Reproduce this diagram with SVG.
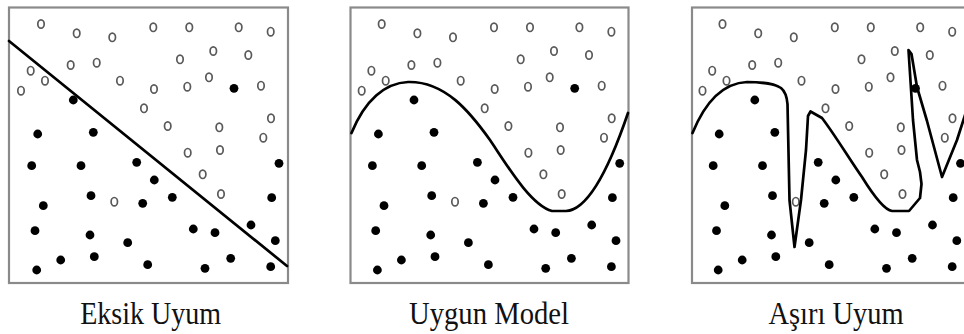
<svg xmlns="http://www.w3.org/2000/svg" xmlns:xlink="http://www.w3.org/1999/xlink" width="964" height="334" viewBox="0 0 964 334">
<style>
.frame{fill:#fff;stroke:#8a8a8a;stroke-width:2.2}
.o{fill:none;stroke:#5a5a5a;stroke-width:1.7}
.f{fill:#000}
.curve{fill:none;stroke:#000;stroke-width:2.7;stroke-linejoin:round;stroke-linecap:round}
.lbl{font-family:"Liberation Serif","Times New Roman",serif;font-size:31px;fill:#111;text-anchor:middle}
</style>
<defs>
<g id="pts">
<g class="o">
<ellipse cx="41" cy="24" rx="3.2" ry="4.2"/><ellipse cx="76.7" cy="33.3" rx="3.2" ry="4.2"/><ellipse cx="112.3" cy="37.3" rx="3.2" ry="4.2"/><ellipse cx="153.3" cy="27.3" rx="3.2" ry="4.2"/><ellipse cx="189.3" cy="27.3" rx="3.2" ry="4.2"/><ellipse cx="238.7" cy="27.3" rx="3.2" ry="4.2"/><ellipse cx="270.7" cy="31.7" rx="3.2" ry="4.2"/><ellipse cx="180" cy="59.3" rx="3.2" ry="4.2"/><ellipse cx="213.3" cy="51" rx="3.2" ry="4.2"/><ellipse cx="248.3" cy="55" rx="3.2" ry="4.2"/><ellipse cx="70.7" cy="65" rx="3.2" ry="4.2"/><ellipse cx="96.7" cy="62.7" rx="3.2" ry="4.2"/><ellipse cx="30.7" cy="70.7" rx="3.2" ry="4.2"/><ellipse cx="45" cy="80.7" rx="3.2" ry="4.2"/><ellipse cx="21" cy="90.7" rx="3.2" ry="4.2"/><ellipse cx="120" cy="80.7" rx="3.2" ry="4.2"/><ellipse cx="154" cy="89" rx="3.2" ry="4.2"/><ellipse cx="187.3" cy="86.7" rx="3.2" ry="4.2"/><ellipse cx="209" cy="77.3" rx="3.2" ry="4.2"/><ellipse cx="261" cy="85.7" rx="3.2" ry="4.2"/><ellipse cx="144" cy="108.3" rx="3.2" ry="4.2"/><ellipse cx="167.7" cy="126" rx="3.2" ry="4.2"/><ellipse cx="219.3" cy="127.3" rx="3.2" ry="4.2"/><ellipse cx="271" cy="118.3" rx="3.2" ry="4.2"/><ellipse cx="263.3" cy="137.7" rx="3.2" ry="4.2"/><ellipse cx="187.7" cy="152.7" rx="3.2" ry="4.2"/><ellipse cx="220" cy="150" rx="3.2" ry="4.2"/><ellipse cx="202.7" cy="174.3" rx="3.2" ry="4.2"/><ellipse cx="221" cy="194" rx="3.2" ry="4.2"/><ellipse cx="114.3" cy="201.7" rx="3.2" ry="4.2"/>
</g>
<g class="f">
<circle cx="234" cy="88.3" r="4.4"/><circle cx="73.3" cy="100" r="4.4"/><circle cx="37.7" cy="134" r="4.4"/><circle cx="93.3" cy="132.3" r="4.4"/><circle cx="31.7" cy="165.7" r="4.4"/><circle cx="81" cy="165.7" r="4.4"/><circle cx="136.7" cy="162.3" r="4.4"/><circle cx="154.3" cy="180" r="4.4"/><circle cx="279" cy="163.3" r="4.4"/><circle cx="43.3" cy="205.7" r="4.4"/><circle cx="91" cy="195.7" r="4.4"/><circle cx="142.7" cy="203.3" r="4.4"/><circle cx="172.3" cy="197.3" r="4.4"/><circle cx="271.7" cy="197.7" r="4.4"/><circle cx="35" cy="230.7" r="4.4"/><circle cx="90" cy="235" r="4.4"/><circle cx="127.7" cy="242.7" r="4.4"/><circle cx="193.3" cy="229" r="4.4"/><circle cx="215" cy="232.7" r="4.4"/><circle cx="251" cy="225" r="4.4"/><circle cx="275.3" cy="240.7" r="4.4"/><circle cx="36.7" cy="270" r="4.4"/><circle cx="60.7" cy="260" r="4.4"/><circle cx="94.3" cy="256.7" r="4.4"/><circle cx="147.7" cy="264.7" r="4.4"/><circle cx="205" cy="268.3" r="4.4"/><circle cx="230.7" cy="258.3" r="4.4"/><circle cx="270.7" cy="266.7" r="4.4"/>
</g>
</g>
</defs>
<rect width="964" height="334" fill="#fff"/>
<g id="panel-eksik">
<rect class="frame" x="9" y="7.5" width="279" height="275.5"/>
<use xlink:href="#pts" href="#pts"/>
<line class="curve" x1="9" y1="41" x2="287" y2="266"/>
<text class="lbl" x="150.7" y="324" textLength="141" lengthAdjust="spacingAndGlyphs">Eksik Uyum</text>
</g>
<g id="panel-uygun">
<rect class="frame" x="350.5" y="7.5" width="278" height="275.5"/>
<use xlink:href="#pts" href="#pts" transform="translate(340.7,0)"/>
<path class="curve" d="M351.5,133 C365,100 385,83 408,82 C445,81 470,112 490,140 C505,162 530,205 552,211 L566,211 C590,210 612,160 628,113"/>
<text class="lbl" x="489" y="324" textLength="160" lengthAdjust="spacingAndGlyphs">Uygun Model</text>
</g>
<g id="panel-asiri">
<rect class="frame" x="692" y="7.5" width="280" height="275.5"/>
<use xlink:href="#pts" href="#pts" transform="translate(681.5,0)"/>
<path class="curve" d="M692.5,133 C706,100 725,83 747,82 C760,82 775,84 781,88 C786,92 787,98 787.5,104 L789.5,200 L794.5,247 L801,200 L806,150 L808,116 L810.5,111.5 L822,118 C835,135 850,160 862,177 C875,198 885,210 892,211 L909,211 L920,198 L921.5,184 L920,172 L917,160 L913,120 L908.5,50 L911.5,54 L917,87 L927,121 L942,177 L957,140 L966,112"/>
<text class="lbl" x="836" y="324" textLength="135" lengthAdjust="spacingAndGlyphs">Aşırı Uyum</text>
</g>
</svg>
